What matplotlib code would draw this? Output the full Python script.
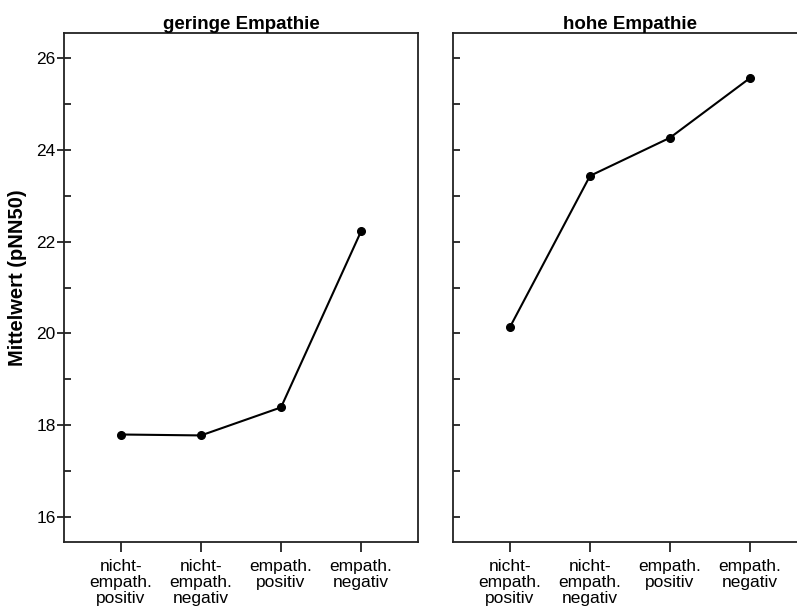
import matplotlib
matplotlib.use("Agg")
import matplotlib.pyplot as plt
from matplotlib.ticker import MultipleLocator

plt.rcParams['font.family'] = ['Liberation Sans', 'DejaVu Sans']

categories = ["nicht-\nempath.\npositiv", "nicht-\nempath.\nnegativ", "empath.\npositiv", "empath.\nnegativ"]
panel_titles = ["geringe Empathie", "hohe Empathie"]
low_empathy = [17.80, 17.78, 18.39, 22.22]
high_empathy = [20.14, 23.43, 24.26, 25.56]
y_label = "Mittelwert (pNN50)"

W, H = 797, 610
fig = plt.figure(figsize=(W / 100, H / 100), dpi=100)

def px_axes(l, t, r, b):
    return fig.add_axes([l / W, (H - b) / H, (r - l) / W, (b - t) / H])

ax1 = px_axes(64, 33, 418, 542)
ax2 = px_axes(453, 33, 807, 542)

x = [1, 2, 3, 4]
for ax, vals, title in [(ax1, low_empathy, panel_titles[0]), (ax2, high_empathy, panel_titles[1])]:
    ax.plot(x, vals, color='black', lw=1.5, marker='o', ms=5.5, mfc='black', mec='black')
    ax.set_xlim(0.2875, 4.7125)
    ax.set_ylim(15.46, 26.54)
    ax.set_xticks(x)
    ax.set_xticklabels(categories, fontsize=12.5, linespacing=1.1)
    ax.set_title(title, fontsize=13.5, fontweight='bold', pad=2)
    for s in ax.spines.values():
        s.set_linewidth(1.3)
        s.set_color('#222222')
    ax.tick_params(axis='x', direction='out', length=7, width=1.3, color='#222222', pad=5)
    ax.yaxis.set_major_locator(MultipleLocator(2))
    ax.yaxis.set_minor_locator(MultipleLocator(1))

ax1.tick_params(axis='y', which='major', direction='inout', length=10, width=1.3, labelsize=12.5, pad=1, color='#222222')
ax1.tick_params(axis='y', which='minor', direction='in', length=5, width=1.3, color='#222222')
ax1.set_ylabel(y_label, fontsize=14.5, fontweight='bold')
ax1.yaxis.set_label_coords((27 - 64) / 354, (542 - 278) / 509)

ax2.tick_params(axis='y', which='both', direction='in', length=5, width=1.3, labelleft=False, color='#222222')

fig.savefig("out.png", dpi=100)
